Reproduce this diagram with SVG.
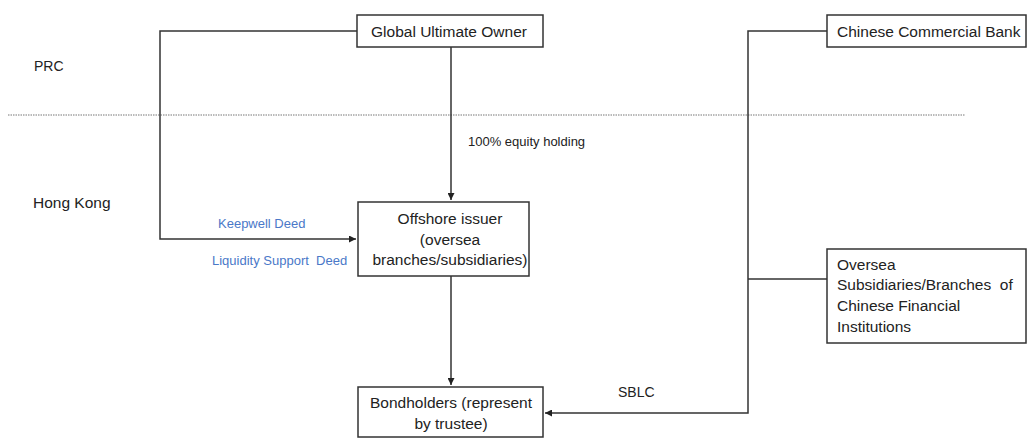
<svg xmlns="http://www.w3.org/2000/svg" width="1027" height="440" viewBox="0 0 1027 440">
  <defs>
    <marker id="arrow" viewBox="0 0 10 10" refX="10" refY="5" markerWidth="7" markerHeight="7" markerUnits="userSpaceOnUse" orient="auto">
      <path d="M0,0 L10,5 L0,10 z" fill="#222"/>
    </marker>
  </defs>
  <style>
    text { font-family: "Liberation Sans", Arial, sans-serif; fill: #222; white-space: pre; }
    .node rect { fill: #fff; stroke: #333; stroke-width: 1.5; }
    .lbl { font-size: 15.5px; }
    .region { font-size: 14px; }
    .small { font-size: 13px; }
    .blue { font-size: 13px; fill: #4a78c8; }
    .conn { fill: none; stroke: #333; stroke-width: 1.5; }
    .divider { stroke: #777; stroke-width: 1; stroke-dasharray: 1.5 1; }
  </style>

  <rect width="1027" height="440" fill="#fff"/>

  <!-- region boundary and region names -->
  <line class="divider" x1="8" y1="115" x2="965" y2="115"/>
  <text class="region" x="34" y="71">PRC</text>
  <text class="region" x="33" y="208" style="font-size:15.5px">Hong Kong</text>

  <!-- connectors -->
  <g id="connectors">
    <polyline class="conn" points="357,31 160,31 160,239 356,239" marker-end="url(#arrow)"/>
    <line class="conn" x1="451" y1="47" x2="451" y2="200" marker-end="url(#arrow)"/>
    <line class="conn" x1="451" y1="276" x2="451" y2="385" marker-end="url(#arrow)"/>
    <polyline class="conn" points="827,31 748,31 748,413 545,413" marker-end="url(#arrow)"/>
    <line class="conn" x1="748" y1="279" x2="827" y2="279"/>
    <text class="small" x="468" y="146">100% equity holding</text>
    <text class="blue" x="218" y="228">Keepwell Deed</text>
    <text class="blue" x="212" y="265">Liquidity Support  Deed</text>
    <text class="region" x="618" y="397">SBLC</text>
  </g>

  <g id="global-ultimate-owner" class="node">
    <rect x="357" y="15" width="186" height="32"/>
    <text class="lbl" x="449" y="37" text-anchor="middle">Global Ultimate Owner</text>
  </g>

  <g id="offshore-issuer" class="node">
    <rect x="358" y="202" width="171" height="74"/>
    <text class="lbl" x="450" y="224" text-anchor="middle">Offshore issuer</text>
    <text class="lbl" x="450" y="245" text-anchor="middle">(oversea</text>
    <text class="lbl" x="450" y="265" text-anchor="middle">branches/subsidiaries)</text>
  </g>

  <g id="bondholders" class="node">
    <rect x="358" y="387" width="185" height="50"/>
    <text class="lbl" x="451" y="408" text-anchor="middle">Bondholders (represent</text>
    <text class="lbl" x="451" y="429" text-anchor="middle">by trustee)</text>
  </g>

  <g id="chinese-commercial-bank" class="node">
    <rect x="827" y="15" width="199" height="32"/>
    <text class="lbl" x="837" y="37">Chinese Commercial Bank</text>
  </g>

  <g id="oversea-subsidiaries" class="node">
    <rect x="827" y="249" width="199" height="94"/>
    <text class="lbl" x="837" y="270">Oversea</text>
    <text class="lbl" x="837" y="290">Subsidiaries/Branches  of</text>
    <text class="lbl" x="837" y="311">Chinese Financial</text>
    <text class="lbl" x="837" y="332">Institutions</text>
  </g>
</svg>
